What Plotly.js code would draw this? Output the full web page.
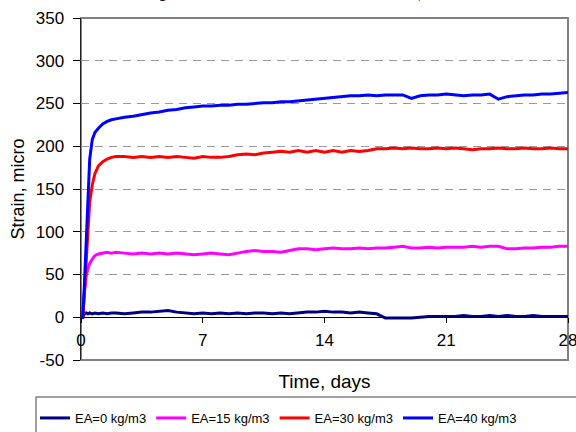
<!DOCTYPE html>
<html>
<head>
<meta charset="utf-8">
<script src="https://cdn.plot.ly/plotly-3.0.1.min.js"></script>
<style>
  html, body { margin: 0; padding: 0; background: #ffffff; }
  #chart { width: 576px; height: 432px; }
</style>
</head>
<body>
<div id="chart"></div>
<script>
// Sampling times (days since casting)
const days = [
  0, 0.1, 0.2, 0.3, 0.4, 0.5, 0.65, 0.8, 1.0, 1.25, 1.5, 1.75,
  2.0, 2.5, 3.0, 3.5, 4.0, 4.5, 5.0, 5.5, 6.0, 6.5, 7.0, 7.5,
  8.0, 8.5, 9.0, 9.5, 10.0, 10.5, 11.0, 11.5, 12.0, 12.5, 13.0, 13.5,
  14.0, 14.5, 15.0, 15.5, 16.0, 16.5, 17.0, 17.5, 18.0, 18.5, 19.0, 19.5,
  20.0, 20.5, 21.0, 21.5, 22.0, 22.5, 23.0, 23.5, 24.0, 24.5, 25.0, 25.5,
  26.0, 26.5, 27.0, 27.5, 28.0
];

// Measured strain (micro-strain) for each expansive-agent dosage
const strainEA0 = [
  0, 0, 4, 5, 4, 5, 4, 5, 4, 5, 4, 5,
  5, 4, 5, 6, 6, 7, 8, 6, 5, 4, 5, 4,
  5, 4, 5, 4, 5, 5, 4, 5, 4, 5, 6, 6,
  7, 6, 6, 5, 6, 5, 4, -1, -1, -1, -1, 0,
  1, 1, 1, 1, 2, 1, 1, 2, 1, 2, 1, 1,
  2, 1, 1, 1, 1
];
const strainEA15 = [
  0, 0, 30, 48, 57, 63, 68, 72, 74, 75, 76, 75,
  76, 75, 74, 75, 74, 75, 74, 75, 74, 73, 74, 75,
  74, 73, 75, 77, 78, 77, 77, 76, 78, 80, 80, 79,
  80, 81, 80, 80, 81, 80, 81, 81, 82, 83, 81, 81,
  82, 81, 82, 82, 82, 83, 82, 83, 83, 80, 80, 81,
  81, 82, 82, 83, 83
];
const strainEA30 = [
  0, 0, 30, 70, 112, 135, 155, 168, 177, 182, 185, 187,
  188, 188, 187, 188, 187, 188, 187, 188, 187, 186, 188, 187,
  187, 188, 190, 191, 190, 192, 193, 194, 193, 195, 193, 195,
  193, 195, 193, 195, 194, 195, 197, 197, 198, 197, 198, 197,
  197, 198, 197, 198, 197, 196, 197, 197, 198, 197, 197, 198,
  197, 197, 198, 197, 197
];
const strainEA40 = [
  0, 0, 40, 85, 140, 185, 208, 216, 221, 226, 229, 231,
  232, 234, 235, 237, 239, 240, 242, 243, 245, 246, 247, 247,
  248, 248, 249, 249, 250, 251, 251, 252, 252, 253, 254, 255,
  256, 257, 258, 259, 259, 260, 259, 260, 260, 260, 256, 259,
  260, 260, 261, 260, 259, 260, 260, 261, 255, 258, 259, 260,
  260, 261, 261, 262, 263
];

const seriesNames = ['EA=0 kg/m3', 'EA=15 kg/m3', 'EA=30 kg/m3', 'EA=40 kg/m3'];
const seriesValues = [strainEA0, strainEA15, strainEA30, strainEA40];
const seriesColors = ['#000080', '#ff00ff', '#ff0000', '#0000ff'];

const xTicks = [0, 7, 14, 21, 28];
const yTicks = [-50, 0, 50, 100, 150, 200, 250, 300, 350];
const yTickLabels = ['-50', '0', '50', '100', '150', '200', '250', '300', '350'];

const traces = seriesNames.map((name, i) => ({
  type: 'scatter',
  mode: 'lines',
  name: name,
  x: days,
  y: seriesValues[i],
  line: { color: seriesColors[i], width: 3 },
  hoverinfo: 'skip'
}));

// Plot-area geometry helpers (margins in px)
const W = 576, H = 432;
const M = { l: 81, r: 8, t: 18, b: 72 };
const pw = W - M.l - M.r, ph = H - M.t - M.b;
const px2x = p => (p - M.l) / pw;
const px2y = p => (H - M.b - p) / ph;

const sans = 'Liberation Sans, Arial, sans-serif';
const axisFont = { family: sans, size: 17, color: '#000' };

const layout = {
  width: W,
  height: H,
  margin: Object.assign({ autoexpand: false }, M),
  paper_bgcolor: '#ffffff',
  plot_bgcolor: '#ffffff',
  showlegend: true,
  xaxis: {
    range: [0, 28],
    tickmode: 'array',
    tickvals: xTicks,
    ticktext: xTicks.map(String),
    anchor: 'free',
    position: 0.125,
    showgrid: false,
    zeroline: false,
    showline: true,
    linecolor: '#000',
    linewidth: 1,
    ticks: 'outside',
    ticklen: 5,
    tickcolor: '#000',
    ticklabelstandoff: 2,
    ticklabeloverflow: 'allow',
    tickfont: axisFont,
    automargin: false,
    title: { text: 'Time, days', font: { family: sans, size: 19, color: '#000' }, standoff: 26 }
  },
  yaxis: {
    range: [-50, 350],
    tickmode: 'array',
    tickvals: yTicks,
    ticktext: yTickLabels,
    showgrid: true,
    gridcolor: '#9a9a9a',
    gridwidth: 1,
    griddash: '8px,6px',
    zeroline: false,
    showline: true,
    linecolor: '#222',
    linewidth: 1.5,
    ticks: 'outside',
    ticklen: 7,
    tickcolor: '#000',
    ticklabelstandoff: 5,
    tickfont: axisFont,
    automargin: false,
    title: { text: 'Strain, micro', font: { family: sans, size: 18, color: '#000' }, standoff: 6 }
  },
  legend: {
    orientation: 'h',
    xref: 'container',
    yref: 'container',
    x: 35 / W,
    xanchor: 'left',
    y: 1 - 403 / H,
    yanchor: 'top',
    bgcolor: 'rgba(0,0,0,0)',
    borderwidth: 0,
    font: { family: sans, size: 13, color: '#000' },
    traceorder: 'normal'
  },
  shapes: [
    // plot-area frame
    { type: 'rect', xref: 'paper', yref: 'paper', x0: 0, x1: 1, y0: 0, y1: 1,
      line: { color: '#808080', width: 2 }, layer: 'below' },
    // legend box
    { type: 'rect', xref: 'paper', yref: 'paper', x0: px2x(36), x1: px2x(590), y0: px2y(397), y1: px2y(445),
      line: { color: '#808080', width: 1.5 }, layer: 'below' }
  ],
  annotations: [
    {
      xref: 'paper', yref: 'paper',
      x: px2x(280), y: px2y(3),
      xanchor: 'center', yanchor: 'bottom',
      showarrow: false,
      align: 'center',
      text: 'Free Expansion of Concrete Specimens (w/c = 0.40,<br>Expansion Strain, Sealed 20°C)',
      font: { family: 'Liberation Serif, Times New Roman, serif', size: 23, color: '#000' }
    }
  ]
};

Plotly.newPlot('chart', traces, layout, { staticPlot: true, displayModeBar: false });
</script>
</body>
</html>
